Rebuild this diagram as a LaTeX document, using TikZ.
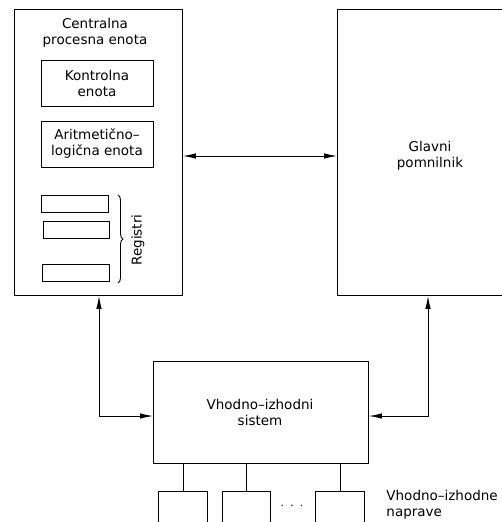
\documentclass[tikz,border=0pt]{standalone}
\usepackage{fontspec}
\setmainfont{DejaVu Sans}
\usetikzlibrary{arrows.meta}
\usetikzlibrary{positioning}
\usetikzlibrary{decorations.pathreplacing}

\begin{document}
\begin{tikzpicture}[x=1pt,y=-1pt,<->,>={Latex[length=13pt,width=5.5pt]},line width=0.9pt,
					font=\fontsize{13.5}{16}\selectfont]
					\tikzstyle{every node}=[inner sep=0pt]
					\tikzstyle{blok}=[draw,anchor=north west]
					\tikzstyle{napis}=[align=center]
					
					\clip (0,0) rectangle (502,522);
					
					% bloki
					\node[blok,minimum width=168pt,minimum height=286pt] (cpu) at (14,9) {};
					\node[blok,minimum width=180pt,minimum height=286pt] (mem) at (337,9) {};
					\node[blok,minimum width=215pt,minimum height=102pt] (io)  at (153,361) {};
					
					\node[blok,minimum width=112pt,minimum height=46pt] (kont) at (41,60) {};
					\node[blok,minimum width=112pt,minimum height=46pt] (alu)  at (41,121) {};
					
					\node[blok,minimum width=67pt,minimum height=17pt] (reg1) at (41,195) {};
					\node[blok,minimum width=66pt,minimum height=17pt] (reg2) at (43,221) {};
					\node[blok,minimum width=67pt,minimum height=17pt] (reg3) at (42,264) {};
					
					\node[blok,minimum width=49pt,minimum height=40pt] (nap1) at (158,491) {};
					\node[blok,minimum width=48pt,minimum height=40pt] (nap2) at (222,491) {};
					\node[blok,minimum width=49pt,minimum height=40pt] (nap3) at (315,491) {};
					
					% napisi
					\node[napis] (cpuT) at (95,33)   {Centralna\\procesna enota};
					\node[napis] (kontT) at (97,83)  {Kontrolna\\enota};
					\node[napis] (aluT) at (97,144)  {Aritmetično–\\logična enota};
					\node[napis] (memT) at (430,156) {Glavni\\pomnilnik};
					\node[napis] (ioT)  at (260,412) {Vhodno–izhodni\\sistem};
					\node[rotate=90] (regT) at (138,240) {Registri};
					\node[font=\Large] (pike) at (292,506) {$\cdot\,\cdot\,\cdot$};
					\node[align=left,anchor=west] (napT) at (386,505) {Vhodno–izhodne\\naprave};
					
					\draw[-,decorate,decoration={brace,amplitude=5pt}] (118,195) -- (118,283);
					
					% povezave
					\coordinate (m) at (260,156);
					\coordinate (l) at (99,416);
					\coordinate (r) at (428,416);
					
					\draw (cpu.east |- m) -- (mem.west |- m);
					\draw (cpu.south -| l) |- (io.west |- l);
					\draw (mem.south -| r) |- (io.east |- r);
					
					\draw[-] (io.south -| nap1.north) -- (nap1.north);
					\draw[-] (io.south -| nap2.north) -- (nap2.north);
					\draw[-] (io.south -| nap3.north) -- (nap3.north);
					
					\end{tikzpicture}
\end{document}
